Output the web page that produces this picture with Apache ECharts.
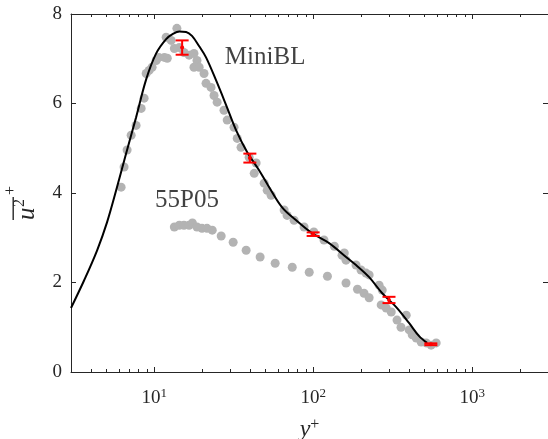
<!DOCTYPE html>
<html><head><meta charset="utf-8">
<script src="https://cdn.jsdelivr.net/npm/echarts@6/dist/echarts.min.js"></script>
<style>html,body{margin:0;padding:0;background:#fff}#c{width:548px;height:439px}</style>
</head><body><div id="c"></div>
<script>
// Black curve (MiniBL reference profile)
const curveX = [3.0, 3.63, 4.38, 5.06, 5.77, 6.67, 7.70, 8.91, 10.3, 11.9, 13.2, 14.4, 15.9, 17.3, 19.2, 21.2, 24.5, 28.4, 32.8, 38.5, 45.7, 52.9, 63.8, 78.2, 98.6, 126, 161, 186, 225, 272, 333, 402, 464, 521];
const curveY = [1.43, 2.05, 2.72, 3.35, 4.06, 4.89, 5.69, 6.54, 7.12, 7.44, 7.56, 7.61, 7.60, 7.51, 7.28, 7.03, 6.52, 5.96, 5.40, 4.91, 4.51, 4.13, 3.68, 3.39, 3.10, 2.88, 2.57, 2.39, 2.12, 1.76, 1.45, 1.09, 0.80, 0.65];
// MiniBL measured points (grey)
const miniX = [6.20, 6.47, 6.76, 7.17, 7.70, 8.29, 8.65, 8.91, 9.30, 9.71, 10.3, 10.7, 11.6, 12.1, 11.9, 12.8, 13.9, 13.4, 14.4, 15.4, 16.6, 17.8, 18.6, 17.8, 19.2, 20.6, 21.2, 22.8, 23.8, 24.9, 27.5, 28.8, 31.8, 33.3, 35.2, 39.6, 43.8, 42.6, 49.2, 51.4, 54.4, 65.7, 68.6, 75.9, 87.7, 101, 117, 136, 152, 157, 161, 186, 200, 215, 225, 260, 272, 385, 420, 478, 594];
const miniY = [4.13, 4.58, 4.96, 5.29, 5.51, 5.89, 6.12, 6.67, 6.74, 6.81, 6.96, 7.03, 7.03, 7.01, 7.48, 7.41, 7.68, 7.23, 7.25, 7.14, 7.08, 7.12, 6.96, 6.81, 6.81, 6.67, 6.45, 6.36, 6.18, 6.03, 5.85, 5.63, 5.47, 5.22, 5.02, 4.80, 4.67, 4.44, 4.22, 4.06, 3.95, 3.62, 3.50, 3.39, 3.24, 3.13, 2.95, 2.81, 2.61, 2.66, 2.50, 2.39, 2.28, 2.21, 2.17, 1.94, 1.83, 1.27, 0.83, 0.67, 0.65];
// 55P05 points (grey)
const p55X = [13.4, 14.4, 15.4, 16.6, 17.4, 18.6, 20.0, 21.5, 23.2, 26.4, 31.4, 37.9, 46.4, 57.7, 73.9, 94.5, 123, 161, 190, 209, 225, 268, 288, 310, 337, 357, 402, 445, 514, 552];
const p55Y = [3.24, 3.28, 3.28, 3.28, 3.33, 3.24, 3.21, 3.21, 3.17, 3.04, 2.90, 2.72, 2.57, 2.43, 2.34, 2.23, 2.14, 1.99, 1.85, 1.76, 1.66, 1.50, 1.43, 1.34, 1.16, 1.00, 0.94, 0.76, 0.65, 0.60];
// Error bars (red)
const errX = [15, 40, 100, 300, 550];
const errY = [7.25, 4.78, 3.08, 1.61, 0.62];
const errHalf = [0.16, 0.10, 0.04, 0.07, 0.02];
// Ticks
const majorTicksX = [10, 100, 1000];
const minorTicksX = [4, 5, 6, 7, 8, 9, 20, 30, 40, 50, 60, 70, 80, 90, 200, 300, 400, 500, 600, 700, 800, 900, 2000];
const yTicks = [0, 2, 4, 6, 8];
// Annotations
const annotText = ['MiniBL', '55P05'];
const annotX = [49.9, 16.1];
const annotY = [7.03, 3.84];

const FONT = 'Liberation Serif';
const AX = '#262626';
const GREY = '#b3b3b3';

function zip(xs, ys) { return xs.map((x, i) => [x, ys[i]]); }

const chart = echarts.init(document.getElementById('c'), null, {renderer: 'canvas'});

const baseX = {type: 'log', logBase: 10, min: 3, max: 3000, gridIndex: 0, splitLine: {show: false}, minorTick: {show: false}};
const lineStyle = {color: AX, width: 1};

chart.setOption({
  animation: false,
  backgroundColor: '#fff',
  grid: {left: 71, top: 14, width: 477, height: 358, containLabel: false, outerBoundsMode: 'none'},
  xAxis: [
    Object.assign({}, baseX, {
      position: 'bottom',
      axisLine: {show: true, onZero: false, lineStyle},
      axisTick: {show: true, inside: true, length: 5, customValues: majorTicksX, lineStyle},
      axisLabel: {
        show: true, customValues: majorTicksX, margin: 16, color: AX,
        formatter: v => '{b|10}{s|' + Math.round(Math.log10(v)) + '}',
        rich: {
          b: {fontFamily: FONT, fontSize: 19, color: AX, lineHeight: 20},
          s: {fontFamily: FONT, fontSize: 13, color: AX, lineHeight: 20, padding: [0, 0, 8, 0]}
        }
      },
      name: '{i|y}{s|+}', nameLocation: 'middle', nameGap: 44,
      nameTextStyle: {
        rich: {
          i: {fontFamily: FONT, fontStyle: 'italic', fontSize: 24, color: AX, verticalAlign: 'bottom', lineHeight: 26},
          s: {fontFamily: FONT, fontSize: 16, color: AX, verticalAlign: 'bottom', lineHeight: 26, padding: [0, 0, 9, 0]}
        }
      }
    }),
    Object.assign({}, baseX, {
      position: 'top',
      axisLine: {show: true, onZero: false, lineStyle},
      axisTick: {show: true, inside: true, length: 5, customValues: majorTicksX, lineStyle},
      axisLabel: {show: false}
    }),
    Object.assign({}, baseX, {
      position: 'bottom',
      axisLine: {show: false, onZero: false},
      axisTick: {show: true, inside: true, length: 3, customValues: minorTicksX, lineStyle},
      axisLabel: {show: false}
    }),
    Object.assign({}, baseX, {
      position: 'top',
      axisLine: {show: false, onZero: false},
      axisTick: {show: true, inside: true, length: 3, customValues: minorTicksX, lineStyle},
      axisLabel: {show: false}
    })
  ],
  yAxis: [
    {
      type: 'value', min: 0, max: 8, interval: 2, position: 'left', gridIndex: 0,
      splitLine: {show: false},
      axisLine: {show: true, onZero: false, lineStyle},
      axisTick: {show: true, inside: true, length: 5, customValues: yTicks, lineStyle},
      axisLabel: {show: true, customValues: yTicks, margin: 9, fontFamily: FONT, fontSize: 19, color: AX}
    },
    {
      type: 'value', min: 0, max: 8, interval: 2, position: 'right', gridIndex: 0,
      splitLine: {show: false},
      axisLine: {show: true, onZero: false, lineStyle},
      axisTick: {show: true, inside: true, length: 5, customValues: yTicks, lineStyle},
      axisLabel: {show: false}
    }
  ],
  series: [
    {
      name: '55P05', type: 'scatter', xAxisIndex: 0, yAxisIndex: 0,
      data: zip(p55X, p55Y), symbol: 'circle', symbolSize: 9,
      itemStyle: {color: GREY, opacity: 1}, z: 2
    },
    {
      name: 'MiniBL data', type: 'scatter', xAxisIndex: 0, yAxisIndex: 0,
      data: zip(miniX, miniY), symbol: 'circle', symbolSize: 9,
      itemStyle: {color: GREY, opacity: 1}, z: 2
    },
    {
      name: 'MiniBL curve', type: 'line', xAxisIndex: 0, yAxisIndex: 0,
      data: zip(curveX, curveY), smooth: 0.35, showSymbol: false, symbol: 'none',
      lineStyle: {color: '#000', width: 2}, z: 3, clip: true
    },
    {
      name: 'err', type: 'custom', xAxisIndex: 0, yAxisIndex: 0, z: 4,
      data: errX.map((x, i) => [x, errY[i], errHalf[i]]),
      encode: {x: 0, y: 1},
      renderItem: function (params, api) {
        const x = api.value(0), y = api.value(1), h = api.value(2);
        const t = api.coord([x, y + h]), b = api.coord([x, y - h]), c = api.coord([x, y]);
        const w = 6.5;
        const st = {stroke: '#ff0000', lineWidth: 2};
        return {type: 'group', children: [
          {type: 'line', shape: {x1: t[0], y1: t[1], x2: b[0], y2: b[1]}, style: st},
          {type: 'line', shape: {x1: t[0] - w, y1: t[1], x2: t[0] + w, y2: t[1]}, style: st},
          {type: 'line', shape: {x1: b[0] - w, y1: b[1], x2: b[0] + w, y2: b[1]}, style: st},
          {type: 'circle', shape: {cx: c[0], cy: c[1], r: 2}, style: {fill: '#ff0000'}}
        ]};
      }
    },
    {
      name: 'labels', type: 'scatter', xAxisIndex: 0, yAxisIndex: 0, z: 5,
      data: annotText.map((t, i) => ({value: [annotX[i], annotY[i]], name: t})),
      symbolSize: 1, itemStyle: {color: 'rgba(0,0,0,0)'},
      label: {show: true, position: 'inside', formatter: p => p.name, fontFamily: FONT, fontSize: 25, color: '#111'},
      silent: true
    }
  ],
  graphic: [
    {
      type: 'group', x: 30, y: 220, rotation: Math.PI / 2,
      children: [
        {type: 'text', x: 0, y: -3, style: {text: 'u', fontFamily: FONT, fontStyle: 'italic', fontSize: 25, fill: AX, align: 'left', verticalAlign: 'middle'}},
        {type: 'text', x: 13, y: -10, style: {text: '2', fontFamily: FONT, fontSize: 16, fill: AX, align: 'left', verticalAlign: 'middle'}},
        {type: 'rect', shape: {x: 0, y: -17.5, width: 23, height: 1.4}, style: {fill: AX}},
        {type: 'text', x: 25, y: -19, style: {text: '+', fontFamily: FONT, fontSize: 16, fill: AX, align: 'left', verticalAlign: 'middle'}}
      ]
    }
  ]
});
</script></body></html>
